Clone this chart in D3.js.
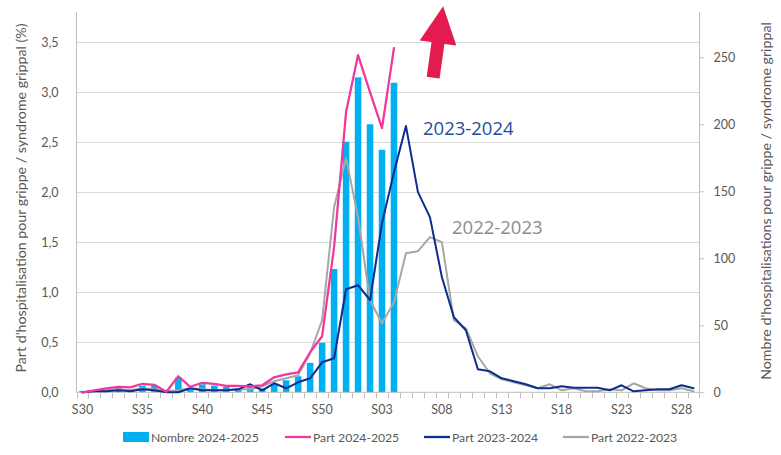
<!DOCTYPE html>
<html>
<head>
  <meta charset="utf-8">
  <style>
    body { margin: 0; background: #fff; }
    svg { display: block; font-family: Lato, "Open Sans", sans-serif; }
  </style>
</head>
<body>
<script src="https://d3js.org/d3.v7.min.js"></script>
<script>

// weeks of the season, S30 to S29
var weeks = ["S30","S31","S32","S33","S34","S35","S36","S37","S38","S39","S40","S41","S42","S43","S44","S45","S46","S47","S48","S49","S50","S51","S52",
             "S01","S02","S03","S04","S05","S06","S07","S08","S09","S10","S11","S12","S13","S14","S15","S16","S17","S18","S19","S20","S21","S22","S23","S24","S25","S26","S27","S28","S29"];
var tickWeeks = ["S30","S35","S40","S45","S50","S03","S08","S13","S18","S23","S28"];

// number of hospitalisations 2024-2025 (right axis)
var nombre2425 = [1,0,1,3,2,5,5,0,11,2,6,5,4,3,4,3,6,9,12,22,37,92,187,235,200,181,231];

// share of hospitalisations (%) (left axis)
var part2425 = [0.0,0.02,0.04,0.055,0.05,0.085,0.075,0.005,0.16,0.055,0.095,0.085,0.065,0.065,0.06,0.07,0.15,0.18,0.2,0.4,0.56,1.45,2.8,3.37,3.0,2.64,3.44];
var part2324 = [0.0,0.01,0.01,0.02,0.01,0.03,0.02,0.0,0.0,0.04,0.02,0.02,0.02,0.03,0.08,0.02,0.09,0.04,0.1,0.14,0.3,0.34,1.03,
                1.07,0.92,1.69,2.2,2.66,2.0,1.75,1.15,0.75,0.62,0.23,0.21,0.14,0.11,0.08,0.04,0.04,0.06,0.045,0.045,0.045,0.02,0.07,0.01,0.02,0.03,0.03,0.07,0.04];
var part2223 = [0.0,0.01,0.02,0.03,0.02,0.04,0.03,0.01,0.02,0.04,0.03,0.02,0.02,0.03,0.03,0.06,0.11,0.14,0.17,0.39,0.72,1.85,2.34,
                1.75,0.92,0.69,0.9,1.39,1.41,1.55,1.5,0.72,0.64,0.36,0.19,0.13,0.1,0.07,0.04,0.08,0.02,0.04,0.01,0.01,0.03,0.02,0.09,0.04,0.02,0.02,0.04,0.01];

var leftTicks = [0,0.5,1,1.5,2,2.5,3,3.5];
var rightTicks = [0,50,100,150,200,250];

function drawChart() {
  var W = 781, H = 455;
  var mLeft = 76.5, mRight = 699.5, mTop = 12, mBottom = 392.3;

  var svg = d3.select("body").append("svg").attr("width", W).attr("height", H);

  var x = d3.scaleBand().domain(weeks).range([mLeft, mRight]).padding(0);
  var xBar = d3.scaleBand().domain(weeks).range([mLeft, mRight]).paddingInner(0.45).paddingOuter(0.225);
  var yL = d3.scaleLinear().domain([0, 3.8]).range([mBottom, mTop]);
  var yR = d3.scaleLinear().domain([0, 283.8]).range([mBottom, mTop]);

  var fmt = function(d) { return d3.format(".1f")(d).replace(".", ","); };

  // gridlines
  svg.append("g").selectAll("line").data(leftTicks.slice(1)).join("line")
    .attr("x1", mLeft).attr("x2", mRight)
    .attr("y1", function(d) { return Math.round(yL(d)) + 0.5; })
    .attr("y2", function(d) { return Math.round(yL(d)) + 0.5; })
    .attr("stroke", "#d9d9d9").attr("stroke-width", 1);

  // left axis
  var gL = svg.append("g").attr("transform", "translate(" + mLeft + ",0)")
    .call(d3.axisLeft(yL).tickValues(leftTicks).tickFormat(fmt).tickSize(0).tickPadding(18));
  gL.select(".domain").remove();
  gL.selectAll("text").attr("fill", "#595959").style("font-size", "12.5px").style("font-family", "Lato, sans-serif");
  svg.append("line").attr("x1", mLeft).attr("x2", mLeft).attr("y1", mTop).attr("y2", mBottom)
    .attr("stroke", "#bfbfbf");

  // right axis
  var gR = svg.append("g").attr("transform", "translate(" + mRight + ",0)")
    .call(d3.axisRight(yR).tickValues(rightTicks).tickSize(5).tickPadding(9));
  gR.select(".domain").remove();
  gR.selectAll("line").attr("stroke", "#bfbfbf");
  gR.selectAll("text").attr("fill", "#595959").style("font-size", "12.5px").style("font-family", "Lato, sans-serif");
  svg.append("line").attr("x1", mRight).attr("x2", mRight).attr("y1", mTop).attr("y2", mBottom + 6)
    .attr("stroke", "#bfbfbf");

  // bars
  svg.append("g").selectAll("rect").data(nombre2425).join("rect")
    .attr("x", function(d, i) { return xBar(weeks[i]); })
    .attr("width", xBar.bandwidth())
    .attr("y", function(d) { return yR(d); })
    .attr("height", function(d) { return mBottom - yR(d); })
    .attr("fill", "#00b0f0");

  // x axis
  svg.append("line").attr("x1", mLeft).attr("x2", mRight).attr("y1", mBottom).attr("y2", mBottom)
    .attr("stroke", "#bfbfbf");
  svg.append("g").selectAll("line").data(weeks).join("line")
    .attr("x1", function(d) { return Math.round(x(d)) + 0.5; })
    .attr("x2", function(d) { return Math.round(x(d)) + 0.5; })
    .attr("y1", mBottom).attr("y2", mBottom + 6)
    .attr("stroke", "#bfbfbf");
  var gX = svg.append("g").attr("transform", "translate(0," + mBottom + ")")
    .call(d3.axisBottom(x).tickValues(tickWeeks).tickSize(0).tickPadding(13));
  gX.select(".domain").remove();
  gX.selectAll("text").attr("fill", "#595959").style("font-size", "12.5px").style("font-family", "Lato, sans-serif");

  // lines
  var line = d3.line()
    .x(function(d, i) { return x(weeks[i]) + x.bandwidth() / 2; })
    .y(function(d) { return yL(d); });

  var series = [
    { data: part2223, color: "#a6a6a6", w: 2 },
    { data: part2324, color: "#0a2d8f", w: 2 },
    { data: part2425, color: "#f0379c", w: 2.25 }
  ];
  series.forEach(function(s) {
    svg.append("path").attr("d", line(s.data))
      .attr("fill", "none").attr("stroke", s.color).attr("stroke-width", s.w)
      .attr("stroke-linejoin", "round").attr("stroke-linecap", "round");
  });

  // annotations
  svg.append("text").attr("x", 423).attr("y", 135).text("2023-2024")
    .attr("fill", "#1f4e99").style("font-size", "18.5px").style("font-family", "'Open Sans', sans-serif");
  svg.append("text").attr("x", 452).attr("y", 234).text("2022-2023")
    .attr("fill", "#8c8c8c").style("font-size", "18.5px").style("font-family", "'Open Sans', sans-serif");

  // red arrow
  svg.append("path")
    .attr("d", "M0,-37 L18.5,0 L6.5,0 L6.5,35 L-6.5,35 L-6.5,0 L-18.5,0 Z")
    .attr("transform", "translate(438,43) rotate(8)")
    .attr("fill", "#e31b4e");

  // axis titles
  svg.append("text")
    .attr("transform", "translate(26,198) rotate(-90)")
    .attr("text-anchor", "middle")
    .attr("fill", "#595959").style("font-size", "14.2px")
    .text("Part d'hospitalisation pour grippe / syndrome grippal (%)");
  svg.append("text")
    .attr("transform", "translate(771,201) rotate(-90)")
    .attr("text-anchor", "middle")
    .attr("fill", "#595959").style("font-size", "14.2px")
    .text("Nombre  d'hospitalisations pour grippe / syndrome grippal");

  // legend
  var legend = [
    { label: "Nombre 2024-2025", color: "#00b0f0", type: "bar", x: 123 },
    { label: "Part 2024-2025", color: "#f0379c", type: "line", x: 285 },
    { label: "Part 2023-2024", color: "#0a2d8f", type: "line", x: 424 },
    { label: "Part 2022-2023", color: "#a6a6a6", type: "line", x: 563 }
  ];
  var ly = 437;
  var lg = svg.append("g").selectAll("g").data(legend).join("g")
    .attr("transform", function(d) { return "translate(" + d.x + "," + ly + ")"; });
  lg.each(function(d) {
    var g = d3.select(this);
    if (d.type === "bar") {
      g.append("rect").attr("x", 0).attr("y", -5).attr("width", 26).attr("height", 10).attr("fill", d.color);
    } else {
      g.append("line").attr("x1", 0).attr("x2", 26).attr("y1", 0).attr("y2", 0)
        .attr("stroke", d.color).attr("stroke-width", 2.25);
    }
    g.append("text").attr("x", 28).attr("y", 4.5).text(d.label)
      .attr("fill", "#595959").style("font-size", "12.2px");
  });
}

drawChart();

</script>
</body>
</html>
